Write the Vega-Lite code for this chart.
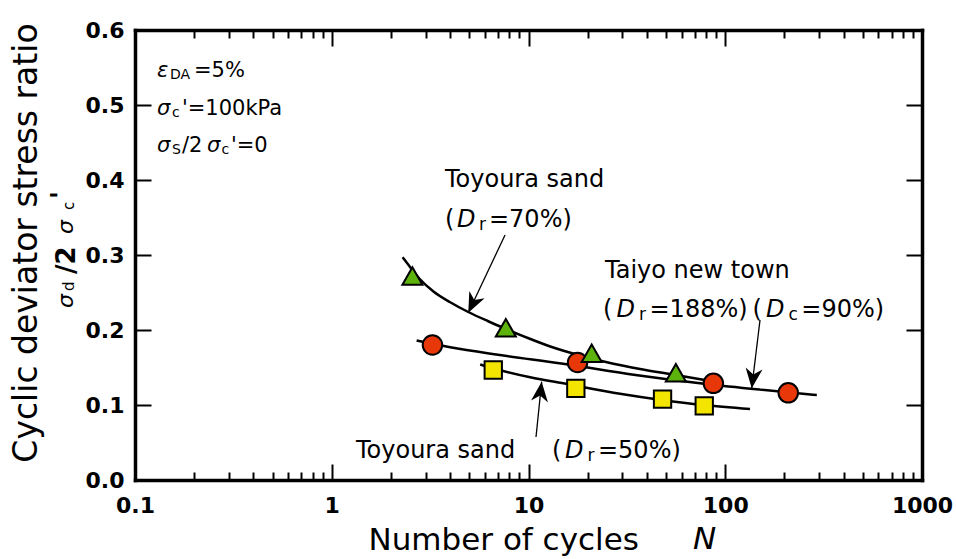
{
  "$schema": "https://vega.github.io/schema/vega-lite/v6.json",
  "width": 787,
  "height": 450,
  "autosize": {"type": "none"},
  "padding": {"left": 135, "top": 30, "right": 34, "bottom": 79},
  "background": "white",
  "config": {"view": {"stroke": null}, "font": "DejaVu Sans"},
  "datasets": {
    "curves": [
      {"series": "Toyoura Dr70", "N": 2.29, "y": 0.297},
      {"series": "Toyoura Dr70", "N": 2.5, "y": 0.284},
      {"series": "Toyoura Dr70", "N": 2.8, "y": 0.268},
      {"series": "Toyoura Dr70", "N": 3.3, "y": 0.251},
      {"series": "Toyoura Dr70", "N": 4.0, "y": 0.237},
      {"series": "Toyoura Dr70", "N": 4.94, "y": 0.224},
      {"series": "Toyoura Dr70", "N": 6.2, "y": 0.212},
      {"series": "Toyoura Dr70", "N": 7.75, "y": 0.201},
      {"series": "Toyoura Dr70", "N": 10, "y": 0.189},
      {"series": "Toyoura Dr70", "N": 12.9, "y": 0.178},
      {"series": "Toyoura Dr70", "N": 18.9, "y": 0.165},
      {"series": "Toyoura Dr70", "N": 27, "y": 0.155},
      {"series": "Toyoura Dr70", "N": 36.9, "y": 0.148},
      {"series": "Toyoura Dr70", "N": 56, "y": 0.14},
      {"series": "Toyoura Dr70", "N": 80, "y": 0.133},
      {"series": "Taiyo new town", "N": 2.7, "y": 0.186},
      {"series": "Taiyo new town", "N": 4, "y": 0.177},
      {"series": "Taiyo new town", "N": 7, "y": 0.167},
      {"series": "Taiyo new town", "N": 15, "y": 0.155},
      {"series": "Taiyo new town", "N": 35, "y": 0.14},
      {"series": "Taiyo new town", "N": 80, "y": 0.128},
      {"series": "Taiyo new town", "N": 150, "y": 0.1205},
      {"series": "Taiyo new town", "N": 292, "y": 0.1133},
      {"series": "Toyoura Dr50", "N": 5.68, "y": 0.154},
      {"series": "Toyoura Dr50", "N": 6.59, "y": 0.149},
      {"series": "Toyoura Dr50", "N": 10.2, "y": 0.137},
      {"series": "Toyoura Dr50", "N": 15.7, "y": 0.128},
      {"series": "Toyoura Dr50", "N": 29.2, "y": 0.115},
      {"series": "Toyoura Dr50", "N": 47.5, "y": 0.1067},
      {"series": "Toyoura Dr50", "N": 77, "y": 0.1},
      {"series": "Toyoura Dr50", "N": 133.6, "y": 0.0947}
    ],
    "points": [
      {"series": "Toyoura Dr70", "N": 2.57, "y": 0.272},
      {"series": "Toyoura Dr70", "N": 7.67, "y": 0.203},
      {"series": "Toyoura Dr70", "N": 20.95, "y": 0.169},
      {"series": "Toyoura Dr70", "N": 56.1, "y": 0.143},
      {"series": "Taiyo new town", "N": 3.25, "y": 0.18},
      {"series": "Taiyo new town", "N": 17.75, "y": 0.1567},
      {"series": "Taiyo new town", "N": 87, "y": 0.1289},
      {"series": "Taiyo new town", "N": 209, "y": 0.1162},
      {"series": "Toyoura Dr50", "N": 6.62, "y": 0.1467},
      {"series": "Toyoura Dr50", "N": 17.4, "y": 0.1222},
      {"series": "Toyoura Dr50", "N": 48, "y": 0.1078},
      {"series": "Toyoura Dr50", "N": 78.2, "y": 0.0989}
    ],
    "arrows": [
      {"id": "Dr70", "N": 7.6, "y": 0.3267, "N2": 4.943, "y2": 0.2231, "hN": 5.2, "hy": 0.2351},
      {"id": "Taiyo", "N": 150.2, "y": 0.2133, "N2": 136.3, "y2": 0.1223, "hN": 138.2, "hy": 0.1355},
      {"id": "Dr50", "N": 10.92, "y": 0.0573, "N2": 11.67, "y2": 0.1311, "hN": 11.52, "hy": 0.1179}
    ],
    "labels": [
      {"grp": "n24", "text": "Toyoura sand", "N": 3.764, "y": 0.3903},
      {"grp": "n24", "text": "(", "N": 3.764, "y": 0.3373},
      {"grp": "n24", "text": "=70%)", "N": 6.298, "y": 0.3373},
      {"grp": "n24", "text": "Taiyo new town", "N": 24.48, "y": 0.2689},
      {"grp": "n24", "text": "(", "N": 23.91, "y": 0.2177},
      {"grp": "n24", "text": "=188%)", "N": 41.21, "y": 0.2177},
      {"grp": "n24", "text": "(", "N": 137.7, "y": 0.2177},
      {"grp": "n24", "text": "=90%)", "N": 243.6, "y": 0.2177},
      {"grp": "n24", "text": "Toyoura sand", "N": 1.328, "y": 0.0289},
      {"grp": "n24", "text": "(", "N": 13.16, "y": 0.0289},
      {"grp": "n24", "text": "=50%)", "N": 22.55, "y": 0.0289},
      {"grp": "i24", "text": "D", "N": 4.331, "y": 0.3373},
      {"grp": "i24", "text": "D", "N": 27.98, "y": 0.2177},
      {"grp": "i24", "text": "D", "N": 161.1, "y": 0.2177},
      {"grp": "i24", "text": "D", "N": 15.33, "y": 0.0289},
      {"grp": "s17", "text": "r", "N": 5.603, "y": 0.3333},
      {"grp": "s17", "text": "r", "N": 36.4, "y": 0.2137},
      {"grp": "s17", "text": "c", "N": 209.7, "y": 0.2137},
      {"grp": "s17", "text": "r", "N": 19.94, "y": 0.0249},
      {"grp": "i21", "text": "ε", "N": 0.1294, "y": 0.5373},
      {"grp": "i21", "text": "σ", "N": 0.1294, "y": 0.4867},
      {"grp": "i21", "text": "σ", "N": 0.1294, "y": 0.4373},
      {"grp": "i21", "text": "σ", "N": 0.2323, "y": 0.4373},
      {"grp": "s14", "text": "DA", "N": 0.1506, "y": 0.5347},
      {"grp": "s14", "text": "c", "N": 0.1542, "y": 0.484},
      {"grp": "s14", "text": "S", "N": 0.1542, "y": 0.4347},
      {"grp": "s14", "text": "c", "N": 0.2753, "y": 0.4347},
      {"grp": "n21", "text": "=5%", "N": 0.1995, "y": 0.5373},
      {"grp": "n21", "text": "'=100kPa", "N": 0.1733, "y": 0.4867},
      {"grp": "n21", "text": "/2", "N": 0.1733, "y": 0.4373},
      {"grp": "n21", "text": "'=0", "N": 0.3075, "y": 0.4373},
      {"grp": "i31", "text": "N", "N": 68.56, "y": -0.092},
      {"grp": "ri22", "text": "σ", "N": 0.04841, "y": 0.2293},
      {"grp": "ri22", "text": "σ", "N": 0.04841, "y": 0.328},
      {"grp": "rs15", "text": "d", "N": 0.04898, "y": 0.252},
      {"grp": "rs15", "text": "c", "N": 0.04898, "y": 0.36},
      {"grp": "rb26", "text": "/2", "N": 0.04955, "y": 0.2747},
      {"grp": "rb26", "text": "'", "N": 0.04673, "y": 0.3747}
    ]
  },
  "resolve": {"axis": {"x": "independent", "y": "independent"}},
  "layer": [
    {
      "data": {"name": "curves"},
      "mark": {"type": "line", "color": "black", "strokeWidth": 2.5, "interpolate": "monotone"},
      "encoding": {
        "x": {"field": "N", "type": "quantitative", "scale": {"type": "log", "domain": [0.1, 1000], "nice": false},
          "axis": {"orient": "bottom", "values": [0.1, 1, 10, 100, 1000], "labelExpr": "datum.value + ''", "ticks": false, "grid": false,
            "domain": true, "domainColor": "black", "domainWidth": 3.5, "domainCap": "square",
            "labelFont": "DejaVu Sans", "labelFontWeight": "bold", "labelFontSize": 22, "labelColor": "black", "labelPadding": 15, "labelFlush": false, "labelOverlap": false,
            "title": "Number of cycles", "titleFont": "DejaVu Sans", "titleFontSize": 31, "titleFontWeight": "normal", "titleColor": "black",
            "titleAlign": "left", "titleBaseline": "alphabetic", "titleX": 233, "titleY": 69}},
        "y": {"field": "y", "type": "quantitative", "scale": {"domain": [0, 0.6], "nice": false, "zero": false},
          "axis": {"orient": "left", "values": [0, 0.1, 0.2, 0.3, 0.4, 0.5, 0.6], "format": ".1f", "ticks": false, "grid": false,
            "domain": true, "domainColor": "black", "domainWidth": 3.5, "domainCap": "square",
            "labelFont": "DejaVu Sans", "labelFontWeight": "bold", "labelFontSize": 22, "labelColor": "black", "labelPadding": 11, "labelFlush": false, "labelOverlap": false,
            "title": "Cyclic deviator stress ratio", "titleFont": "DejaVu Sans", "titleFontSize": 33, "titleFontWeight": "normal", "titleColor": "black",
            "titleAngle": 270, "titleAlign": "center", "titleBaseline": "alphabetic", "titleX": -98.5, "titleY": 212.5}},
        "detail": {"field": "series"}
      }
    },
    {
      "data": {"name": "points"},
      "transform": [{"filter": "datum.series == 'Taiyo new town'"}],
      "mark": {"type": "point", "shape": "circle", "filled": true, "fill": "#E8380A", "stroke": "black", "strokeWidth": 2, "size": 380, "opacity": 1},
      "encoding": {
        "x": {"field": "N", "type": "quantitative", "scale": {"type": "log", "domain": [0.1, 1000], "nice": false},
          "axis": {"orient": "bottom", "values": [1, 10, 100], "labels": false, "domain": false, "grid": false, "ticks": true, "tickSize": -16, "tickWidth": 2, "tickColor": "black", "title": null}},
        "y": {"field": "y", "type": "quantitative", "scale": {"domain": [0, 0.6], "nice": false, "zero": false},
          "axis": {"orient": "left", "values": [0.1, 0.2, 0.3, 0.4, 0.5], "labels": false, "domain": false, "grid": false, "ticks": true, "tickSize": -16, "tickWidth": 2, "tickColor": "black", "title": null}}
      }
    },
    {
      "data": {"name": "points"},
      "transform": [{"filter": "datum.series == 'Toyoura Dr70'"}],
      "mark": {"type": "point", "shape": "triangle-up", "filled": true, "fill": "#5DB30C", "stroke": "black", "strokeWidth": 2, "size": 400, "opacity": 1},
      "encoding": {
        "x": {"field": "N", "type": "quantitative", "scale": {"type": "log", "domain": [0.1, 1000], "nice": false},
          "axis": {"orient": "bottom", "values": [0.2, 0.3, 0.4, 0.5, 0.6, 0.7, 0.8, 0.9, 2, 3, 4, 5, 6, 7, 8, 9, 20, 30, 40, 50, 60, 70, 80, 90, 200, 300, 400, 500, 600, 700, 800, 900], "labels": false, "domain": false, "grid": false, "ticks": true, "tickSize": -8, "tickWidth": 2, "tickColor": "black", "title": null}},
        "y": {"field": "y", "type": "quantitative", "scale": {"domain": [0, 0.6], "nice": false, "zero": false},
          "axis": {"orient": "right", "values": [0.1, 0.2, 0.3, 0.4, 0.5], "labels": false, "domain": true, "domainColor": "black", "domainWidth": 3.5, "domainCap": "square", "grid": false, "ticks": true, "tickSize": -16, "tickWidth": 2, "tickColor": "black", "title": null}}
      }
    },
    {
      "data": {"name": "points"},
      "transform": [{"filter": "datum.series == 'Toyoura Dr50'"}],
      "mark": {"type": "point", "shape": "square", "filled": true, "fill": "#F3E500", "stroke": "black", "strokeWidth": 2, "size": 300, "opacity": 1},
      "encoding": {
        "x": {"field": "N", "type": "quantitative", "scale": {"type": "log", "domain": [0.1, 1000], "nice": false},
          "axis": {"orient": "top", "values": [1, 10, 100], "labels": false, "domain": true, "domainColor": "black", "domainWidth": 3.5, "domainCap": "square", "grid": false, "ticks": true, "tickSize": -16, "tickWidth": 2, "tickColor": "black", "title": null}},
        "y": {"field": "y", "type": "quantitative", "scale": {"domain": [0, 0.6], "nice": false, "zero": false}, "axis": null}
      }
    },
    {
      "data": {"name": "arrows"},
      "mark": {"type": "rule", "color": "black", "strokeWidth": 1.3},
      "encoding": {
        "x": {"field": "N", "type": "quantitative", "scale": {"type": "log", "domain": [0.1, 1000], "nice": false},
          "axis": {"orient": "top", "values": [0.2, 0.3, 0.4, 0.5, 0.6, 0.7, 0.8, 0.9, 2, 3, 4, 5, 6, 7, 8, 9, 20, 30, 40, 50, 60, 70, 80, 90, 200, 300, 400, 500, 600, 700, 800, 900], "labels": false, "domain": false, "grid": false, "ticks": true, "tickSize": -8, "tickWidth": 2, "tickColor": "black", "title": null}},
        "y": {"field": "y", "type": "quantitative", "scale": {"domain": [0, 0.6], "nice": false, "zero": false}, "axis": null},
        "x2": {"field": "N2"},
        "y2": {"field": "y2"}
      }
    },
    {
      "data": {"name": "arrows"},
      "transform": [{"filter": "datum.id == 'Dr70'"}],
      "mark": {"type": "point", "shape": "M0,-1L0.85,1L0,0.4L-0.85,1Z", "filled": true, "fill": "black", "strokeWidth": 0, "size": 400, "opacity": 1, "angle": 205.7},
      "encoding": {
        "x": {"field": "hN", "type": "quantitative", "scale": {"type": "log", "domain": [0.1, 1000], "nice": false}, "axis": null},
        "y": {"field": "hy", "type": "quantitative", "scale": {"domain": [0, 0.6], "nice": false, "zero": false}, "axis": null}
      }
    },
    {
      "data": {"name": "arrows"},
      "transform": [{"filter": "datum.id == 'Taiyo'"}],
      "mark": {"type": "point", "shape": "M0,-1L0.85,1L0,0.4L-0.85,1Z", "filled": true, "fill": "black", "strokeWidth": 0, "size": 400, "opacity": 1, "angle": 186.7},
      "encoding": {
        "x": {"field": "hN", "type": "quantitative", "scale": {"type": "log", "domain": [0.1, 1000], "nice": false}, "axis": null},
        "y": {"field": "hy", "type": "quantitative", "scale": {"domain": [0, 0.6], "nice": false, "zero": false}, "axis": null}
      }
    },
    {
      "data": {"name": "arrows"},
      "transform": [{"filter": "datum.id == 'Dr50'"}],
      "mark": {"type": "point", "shape": "M0,-1L0.85,1L0,0.4L-0.85,1Z", "filled": true, "fill": "black", "strokeWidth": 0, "size": 400, "opacity": 1, "angle": 6.2},
      "encoding": {
        "x": {"field": "hN", "type": "quantitative", "scale": {"type": "log", "domain": [0.1, 1000], "nice": false}, "axis": null},
        "y": {"field": "hy", "type": "quantitative", "scale": {"domain": [0, 0.6], "nice": false, "zero": false}, "axis": null}
      }
    },
    {
      "data": {"name": "labels"},
      "transform": [{"filter": "datum.grp == 'n24'"}],
      "mark": {"type": "text", "font": "DejaVu Sans", "fontSize": 24, "align": "left", "baseline": "alphabetic", "color": "black"},
      "encoding": {
        "x": {"field": "N", "type": "quantitative", "scale": {"type": "log", "domain": [0.1, 1000], "nice": false}, "axis": null},
        "y": {"field": "y", "type": "quantitative", "scale": {"domain": [0, 0.6], "nice": false, "zero": false}, "axis": null},
        "text": {"field": "text"}
      }
    },
    {
      "data": {"name": "labels"},
      "transform": [{"filter": "datum.grp == 'i24'"}],
      "mark": {"type": "text", "font": "DejaVu Sans", "fontSize": 24, "fontStyle": "italic", "align": "left", "baseline": "alphabetic", "color": "black"},
      "encoding": {
        "x": {"field": "N", "type": "quantitative", "scale": {"type": "log", "domain": [0.1, 1000], "nice": false}, "axis": null},
        "y": {"field": "y", "type": "quantitative", "scale": {"domain": [0, 0.6], "nice": false, "zero": false}, "axis": null},
        "text": {"field": "text"}
      }
    },
    {
      "data": {"name": "labels"},
      "transform": [{"filter": "datum.grp == 's17'"}],
      "mark": {"type": "text", "font": "DejaVu Sans", "fontSize": 17, "align": "left", "baseline": "alphabetic", "color": "black"},
      "encoding": {
        "x": {"field": "N", "type": "quantitative", "scale": {"type": "log", "domain": [0.1, 1000], "nice": false}, "axis": null},
        "y": {"field": "y", "type": "quantitative", "scale": {"domain": [0, 0.6], "nice": false, "zero": false}, "axis": null},
        "text": {"field": "text"}
      }
    },
    {
      "data": {"name": "labels"},
      "transform": [{"filter": "datum.grp == 'i21'"}],
      "mark": {"type": "text", "font": "DejaVu Sans", "fontSize": 21, "fontStyle": "italic", "align": "left", "baseline": "alphabetic", "color": "black"},
      "encoding": {
        "x": {"field": "N", "type": "quantitative", "scale": {"type": "log", "domain": [0.1, 1000], "nice": false}, "axis": null},
        "y": {"field": "y", "type": "quantitative", "scale": {"domain": [0, 0.6], "nice": false, "zero": false}, "axis": null},
        "text": {"field": "text"}
      }
    },
    {
      "data": {"name": "labels"},
      "transform": [{"filter": "datum.grp == 's14'"}],
      "mark": {"type": "text", "font": "DejaVu Sans", "fontSize": 14, "align": "left", "baseline": "alphabetic", "color": "black"},
      "encoding": {
        "x": {"field": "N", "type": "quantitative", "scale": {"type": "log", "domain": [0.1, 1000], "nice": false}, "axis": null},
        "y": {"field": "y", "type": "quantitative", "scale": {"domain": [0, 0.6], "nice": false, "zero": false}, "axis": null},
        "text": {"field": "text"}
      }
    },
    {
      "data": {"name": "labels"},
      "transform": [{"filter": "datum.grp == 'n21'"}],
      "mark": {"type": "text", "font": "DejaVu Sans", "fontSize": 21, "align": "left", "baseline": "alphabetic", "color": "black"},
      "encoding": {
        "x": {"field": "N", "type": "quantitative", "scale": {"type": "log", "domain": [0.1, 1000], "nice": false}, "axis": null},
        "y": {"field": "y", "type": "quantitative", "scale": {"domain": [0, 0.6], "nice": false, "zero": false}, "axis": null},
        "text": {"field": "text"}
      }
    },
    {
      "data": {"name": "labels"},
      "transform": [{"filter": "datum.grp == 'i31'"}],
      "mark": {"type": "text", "font": "DejaVu Sans", "fontSize": 31, "fontStyle": "italic", "align": "left", "baseline": "alphabetic", "color": "black"},
      "encoding": {
        "x": {"field": "N", "type": "quantitative", "scale": {"type": "log", "domain": [0.1, 1000], "nice": false}, "axis": null},
        "y": {"field": "y", "type": "quantitative", "scale": {"domain": [0, 0.6], "nice": false, "zero": false}, "axis": null},
        "text": {"field": "text"}
      }
    },
    {
      "data": {"name": "labels"},
      "transform": [{"filter": "datum.grp == 'ri22'"}],
      "mark": {"type": "text", "font": "DejaVu Sans", "fontSize": 22, "fontStyle": "italic", "angle": 270, "align": "left", "baseline": "alphabetic", "color": "black"},
      "encoding": {
        "x": {"field": "N", "type": "quantitative", "scale": {"type": "log", "domain": [0.1, 1000], "nice": false}, "axis": null},
        "y": {"field": "y", "type": "quantitative", "scale": {"domain": [0, 0.6], "nice": false, "zero": false}, "axis": null},
        "text": {"field": "text"}
      }
    },
    {
      "data": {"name": "labels"},
      "transform": [{"filter": "datum.grp == 'rs15'"}],
      "mark": {"type": "text", "font": "DejaVu Sans", "fontSize": 15, "angle": 270, "align": "left", "baseline": "alphabetic", "color": "black"},
      "encoding": {
        "x": {"field": "N", "type": "quantitative", "scale": {"type": "log", "domain": [0.1, 1000], "nice": false}, "axis": null},
        "y": {"field": "y", "type": "quantitative", "scale": {"domain": [0, 0.6], "nice": false, "zero": false}, "axis": null},
        "text": {"field": "text"}
      }
    },
    {
      "data": {"name": "labels"},
      "transform": [{"filter": "datum.grp == 'rb26'"}],
      "mark": {"type": "text", "font": "DejaVu Sans", "fontSize": 26, "fontWeight": "bold", "angle": 270, "align": "left", "baseline": "alphabetic", "color": "black"},
      "encoding": {
        "x": {"field": "N", "type": "quantitative", "scale": {"type": "log", "domain": [0.1, 1000], "nice": false}, "axis": null},
        "y": {"field": "y", "type": "quantitative", "scale": {"domain": [0, 0.6], "nice": false, "zero": false}, "axis": null},
        "text": {"field": "text"}
      }
    }
  ]
}
